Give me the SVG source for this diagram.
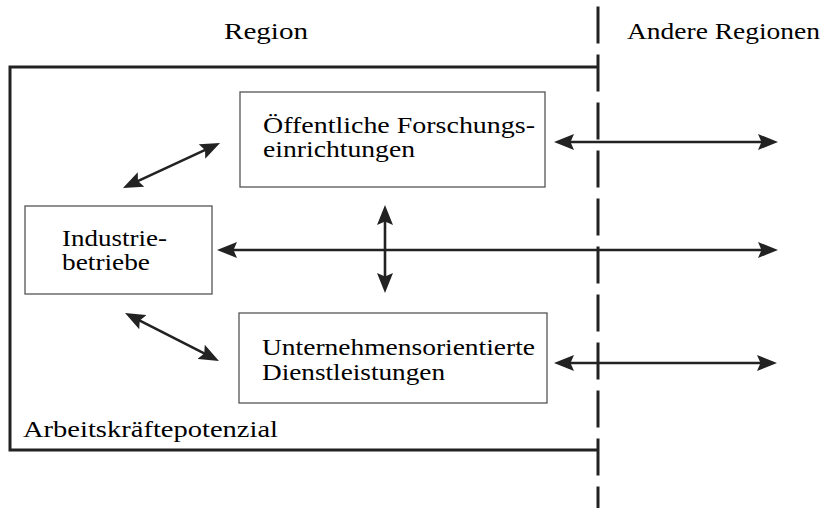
<svg xmlns="http://www.w3.org/2000/svg" width="825" height="508" viewBox="0 0 825 508">
  <style>
    .lbl { font-family: "Liberation Serif", "Times New Roman", serif; font-size: 24px; fill: #000000; }
    .box { fill: #ffffff; stroke: #555555; stroke-width: 1.3; }
    .frame { fill: none; stroke: #222222; stroke-width: 3; }
    .arr { stroke: #222222; stroke-width: 2.6; fill: none; marker-start: url(#ah); marker-end: url(#ah); }
  </style>
  <defs>
    <marker id="ah" viewBox="0 0 20 16" markerWidth="20" markerHeight="16" refX="15" refY="8" orient="auto-start-reverse" markerUnits="userSpaceOnUse">
      <path d="M0,0 L20,8 L0,16 L3.5,8 Z" fill="#222222"/>
    </marker>
  </defs>
  <rect width="825" height="508" fill="#ffffff"/>

  <g id="region-frame">
    <polyline class="frame" points="598,67 10,67 10,450 598,450"/>
    <line x1="598" y1="6.5" x2="598" y2="508" stroke="#222222" stroke-width="3" stroke-dasharray="37 11"/>
    <text class="lbl" x="224" y="39" textLength="84" lengthAdjust="spacingAndGlyphs">Region</text>
    <text class="lbl" x="627" y="39" textLength="193" lengthAdjust="spacingAndGlyphs" style="font-size:23px">Andere Regionen</text>
    <text class="lbl" x="23" y="437" textLength="255" lengthAdjust="spacingAndGlyphs">Arbeitskräftepotenzial</text>
  </g>

  <g id="forschung">
    <rect class="box" x="240" y="92" width="305" height="95"/>
    <text class="lbl" x="263" y="133" textLength="272" lengthAdjust="spacingAndGlyphs">Öffentliche Forschungs-</text>
    <text class="lbl" x="263" y="157" textLength="152" lengthAdjust="spacingAndGlyphs">einrichtungen</text>
  </g>

  <g id="industrie">
    <rect class="box" x="25" y="206" width="187" height="88"/>
    <text class="lbl" x="62" y="246" textLength="105" lengthAdjust="spacingAndGlyphs">Industrie-</text>
    <text class="lbl" x="62" y="270" textLength="88" lengthAdjust="spacingAndGlyphs">betriebe</text>
  </g>

  <g id="dienstleistungen">
    <rect class="box" x="239" y="313" width="308" height="90"/>
    <text class="lbl" x="262" y="355" textLength="273" lengthAdjust="spacingAndGlyphs">Unternehmensorientierte</text>
    <text class="lbl" x="262" y="380" textLength="183" lengthAdjust="spacingAndGlyphs">Dienstleistungen</text>
  </g>

  <g id="connectors">
    <line class="arr" x1="559" y1="142" x2="773" y2="142"/>
    <line class="arr" x1="222" y1="250" x2="773" y2="250"/>
    <line class="arr" x1="559" y1="363" x2="772" y2="363"/>
    <line class="arr" x1="385" y1="210" x2="385" y2="288"/>
    <line class="arr" x1="127.5" y1="185.9" x2="215.5" y2="145.1"/>
    <line class="arr" x1="129.5" y1="315.3" x2="214.5" y2="358.7"/>
  </g>
</svg>
